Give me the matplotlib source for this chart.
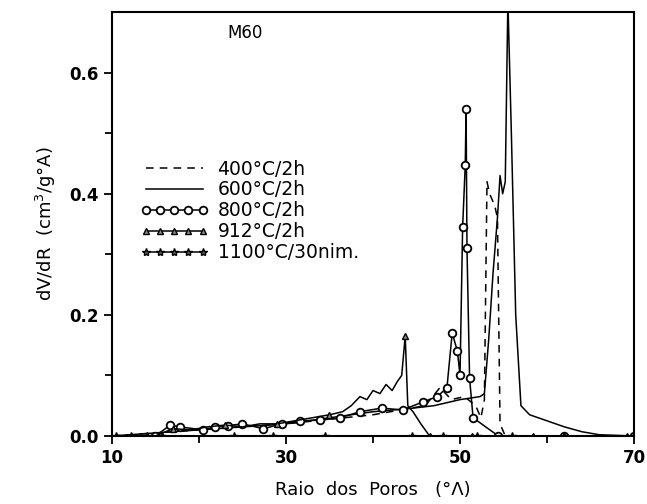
import matplotlib.pyplot as plt

# pore size distribution curves, sample M60
x400 = [10, 20, 30, 40, 44, 46, 47.7, 49, 50.5, 51.8, 52.4, 52.8, 53.1, 53.4, 54.0, 54.3, 54.6, 55.2, 60, 70]
y400 = [0.0, 0.01, 0.02, 0.035, 0.045, 0.05, 0.08, 0.06, 0.065, 0.05, 0.03, 0.06, 0.42, 0.40, 0.38, 0.36, 0.02, 0.0, 0.0, 0.0]

x600 = [10, 15, 20, 25, 30, 35, 40, 44, 47, 50, 52.3, 52.8, 53.3, 53.8, 54.3, 54.6, 54.9, 55.2, 55.5, 55.9, 56.4, 57.0, 58, 60, 62, 64, 66, 70]
y600 = [0.0, 0.005, 0.01, 0.015, 0.02, 0.03, 0.04, 0.045, 0.05, 0.06, 0.065, 0.07, 0.16, 0.27, 0.36, 0.43, 0.40, 0.42, 0.72, 0.50, 0.20, 0.05, 0.035, 0.025, 0.015, 0.007, 0.002, 0.0]

x800 = [15, 16.7, 17.8, 20.5, 21.8, 23.3, 25, 27.4, 29.5, 31.6, 33.9, 36.2, 38.5, 41, 43.4, 45.7, 47.4, 48.5, 49.1, 49.7, 50.0, 50.3, 50.6, 50.7, 50.8, 51.1, 51.5, 54.4, 62, 70]
y800 = [0.0, 0.018, 0.015, 0.01, 0.015, 0.017, 0.02, 0.012, 0.02, 0.025, 0.026, 0.03, 0.04, 0.046, 0.043, 0.056, 0.065, 0.08, 0.17, 0.14, 0.10, 0.345, 0.447, 0.54, 0.31, 0.095, 0.03, 0.0, 0.0, 0.0]

x912 = [15, 17, 19, 21, 23, 25, 27, 29, 31, 33, 35, 36.5, 37.5, 38.5, 39.3, 40.0, 40.8, 41.5, 42.2, 42.8, 43.3, 43.7, 44.0, 44.6, 45.5, 46.5, 51.4, 58.4, 69.2]
y912 = [0.0, 0.012, 0.01, 0.015, 0.018, 0.015, 0.02, 0.02, 0.025, 0.03, 0.035, 0.04, 0.05, 0.065, 0.06, 0.075, 0.07, 0.085, 0.075, 0.09, 0.10, 0.165, 0.05, 0.04, 0.02, 0.0, 0.0, 0.0, 0.0]

x1100 = [10.5, 12.2, 14, 15.7, 24, 28.5, 34.5, 44.5, 48, 52, 56, 62, 70]
y1100 = [0.0] * len(x1100)

labels = ["400°C/2h", "600°C/2h", "800°C/2h", "912°C/2h", "1100°C/30nim."]

fig = plt.figure(figsize=(6.47, 5.04), dpi=100)
ax = fig.add_axes([0.173, 0.135, 0.807, 0.841])

ax.plot(x400, y400, color="black", lw=1.1, ls=(0, (5, 4)), label=labels[0])
ax.plot(x600, y600, color="black", lw=1.1, label=labels[1])
ax.plot(x800, y800, color="black", lw=1.1, marker="o", ms=5.5, mfc="white",
        mec="black", mew=1.3, label=labels[2])
ax.plot(x912, y912, color="black", lw=1.1, marker="^", ms=5, mfc="#888888",
        mec="black", markevery=[1, 4, 7, 10, 21, 25, 26, 27, 28], label=labels[3])
ax.plot(x1100, y1100, color="black", lw=1.1, marker="*", ms=6,
        mfc="#555555", mec="black", label=labels[4])

ax.set_xlim(10, 70)
ax.set_ylim(0, 0.70)
ax.set_xticks([10, 30, 50, 70])
ax.set_xticks([20, 40, 60], minor=True)
ax.set_yticks([0.0, 0.2, 0.4, 0.6])
ax.set_yticks([0.1, 0.3, 0.5], minor=True)
ax.set_yticklabels(["0.0", "0.2", "0.4", "0.6"])
ax.tick_params(which="both", direction="out", width=1.3, labelsize=12)
ax.tick_params(which="major", length=6)
ax.tick_params(which="minor", length=5)
for lab in ax.get_xticklabels() + ax.get_yticklabels():
    lab.set_fontweight("semibold")
for sp in ax.spines.values():
    sp.set_linewidth(1.5)

ax.set_xlabel("Raio  dos  Poros   (°Λ)", fontsize=13, labelpad=10)
ax.set_ylabel("dV/dR  (cm$^3$/g°A)", fontsize=13, labelpad=8)
ax.text(25.3, 0.665, "M60", fontsize=12, ha="center", va="center")

ax.legend(loc="upper left", bbox_to_anchor=(0.055, 0.652), frameon=False,
          fontsize=13.5, handlelength=3.6, handletextpad=0.5, labelspacing=0.1,
          borderpad=0, borderaxespad=0, numpoints=5)

fig.savefig("out.png", dpi=100)
